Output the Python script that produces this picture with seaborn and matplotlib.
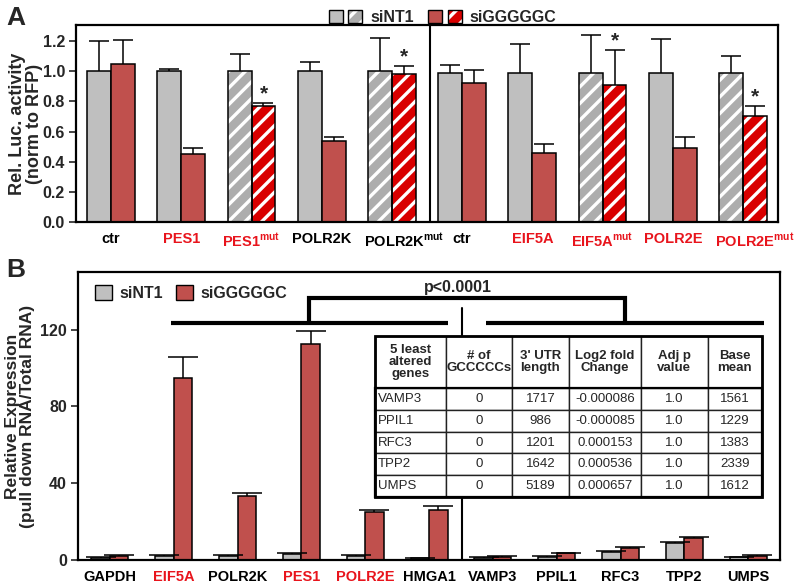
import numpy as np
import pandas as pd
import seaborn as sns
import matplotlib.pyplot as plt
from matplotlib.patches import Patch, Rectangle
from matplotlib.legend_handler import HandlerTuple

# ---- panel A: luciferase reporter activity ----
a_groups = ["ctr", "PES1", "PES1mut", "POLR2K", "POLR2Kmut",
            "ctr_2", "EIF5A", "EIF5Amut", "POLR2E", "POLR2Emut"]
a_labels = ["ctr", "PES1", r"PES1$^{\mathbf{mut}}$", "POLR2K", r"POLR2K$^{\mathbf{mut}}$",
            "ctr", "EIF5A", r"EIF5A$^{\mathbf{mut}}$", "POLR2E", r"POLR2E$^{\mathbf{mut}}$"]
a_label_red = [False, True, True, False, False, False, True, True, True, True]
a_mut = [False, False, True, False, True, False, False, True, False, True]
a_nt = [1.00, 1.00, 1.00, 1.00, 1.00, 0.985, 0.985, 0.985, 0.985, 0.985]
a_nt_err = [0.20, 0.015, 0.115, 0.06, 0.22, 0.055, 0.195, 0.255, 0.225, 0.115]
a_kd = [1.05, 0.45, 0.77, 0.54, 0.98, 0.92, 0.46, 0.905, 0.49, 0.70]
a_kd_err = [0.155, 0.04, 0.022, 0.025, 0.055, 0.09, 0.055, 0.235, 0.073, 0.07]
a_star = [False, False, True, False, True, False, False, True, False, True]

# ---- panel B: pull down enrichment ----
b_genes = ["GAPDH", "EIF5A", "POLR2K", "PES1", "POLR2E", "HMGA1",
           "VAMP3", "PPIL1", "RFC3", "TPP2", "UMPS"]
b_label_red = [False, True, False, True, True, False, False, False, False, False, False]
b_nt = [1.0, 2.0, 2.0, 3.0, 2.0, 0.8, 1.2, 1.7, 4.3, 8.7, 1.3]
b_nt_err = [0.3, 0.4, 0.4, 0.4, 0.4, 0.3, 0.3, 0.3, 0.4, 0.4, 0.3]
b_kd = [2.2, 95.0, 33.5, 112.5, 25.0, 26.0, 1.8, 3.4, 6.4, 11.3, 2.3]
b_kd_err = [0.4, 10.8, 1.4, 6.8, 1.1, 2.2, 0.3, 0.3, 0.4, 0.5, 0.3]

table_cols = ["5 least\naltered\ngenes", "# of\nGCCCCCs", "3' UTR\nlength",
              "Log2 fold\nChange", "Adj p\nvalue", "Base\nmean"]
table_genes = ["VAMP3", "PPIL1", "RFC3", "TPP2", "UMPS"]
table_gc = ["0", "0", "0", "0", "0"]
table_utr = ["1717", "986", "1201", "1642", "5189"]
table_lfc = ["-0.000086", "-0.000085", "0.000153", "0.000536", "0.000657"]
table_padj = ["1.0", "1.0", "1.0", "1.0", "1.0"]
table_base = ["1561", "1229", "1383", "2339", "1612"]

conds = ["siNT1", "siGGGGGC"]
GREY = "#bfbfbf"
GREY_H = "#adadad"
RED = "#c0504d"
RED_H = "#d90000"
LABEL_RED = "#e8141c"

sns.set_style("ticks")
plt.rcParams["font.family"] = ["Liberation Sans", "DejaVu Sans"]
plt.rcParams["font.weight"] = "bold"
plt.rcParams["mathtext.fontset"] = "custom"
plt.rcParams["mathtext.rm"] = "Liberation Sans:bold"
plt.rcParams["mathtext.bf"] = "Liberation Sans:bold"
plt.rcParams["hatch.linewidth"] = 2.4

fig = plt.figure(figsize=(7.96, 5.83), dpi=100)
ax_a = fig.add_axes([0.0955, 0.619, 0.882, 0.338])
ax_b = fig.add_axes([0.098, 0.0395, 0.882, 0.494])


def paired_patches(ax):
    ps = sorted(ax.patches, key=lambda p: p.get_x())
    return ps[0::2], ps[1::2]


def upper_errorbars(ax, xs, ys, errs, capsize):
    eb = ax.errorbar(xs, ys, yerr=[np.zeros(len(ys)), errs], fmt="none", ecolor="black",
                     elinewidth=1.1, capsize=capsize, capthick=1.1, zorder=3)
    caps = eb.lines[1]
    if len(caps) == 2:
        caps[0].set_visible(False)


def style_box(ax):
    for s in ax.spines.values():
        s.set_visible(True)
        s.set_linewidth(1.6)
        s.set_color("black")


# ---------------- A ----------------
df_a = pd.DataFrame({"group": a_groups * 2,
                     "cond": [conds[0]] * len(a_groups) + [conds[1]] * len(a_groups),
                     "value": a_nt + a_kd})
sns.barplot(data=df_a, x="group", y="value", hue="cond", order=a_groups, hue_order=conds,
            palette={conds[0]: GREY, conds[1]: RED}, saturation=1, width=0.68, errorbar=None,
            edgecolor="black", linewidth=1.1, legend=False, ax=ax_a)
nt_bars, kd_bars = paired_patches(ax_a)
for i, mut in enumerate(a_mut):
    if not mut:
        continue
    for p, fc in ((nt_bars[i], GREY_H), (kd_bars[i], RED_H)):
        p.set_facecolor(fc)
        p.set_edgecolor("white")
        p.set_hatch("//")
        p.set_linewidth(0)
        ax_a.add_patch(Rectangle((p.get_x(), p.get_y()), p.get_width(), p.get_height(),
                                 fill=False, edgecolor="black", lw=1.1, zorder=p.get_zorder() + 0.5))

x_nt = [p.get_x() + p.get_width() / 2 for p in nt_bars]
x_kd = [p.get_x() + p.get_width() / 2 for p in kd_bars]
upper_errorbars(ax_a, x_nt, a_nt, a_nt_err, 7)
upper_errorbars(ax_a, x_kd, a_kd, a_kd_err, 7)
for i, st in enumerate(a_star):
    if st:
        ax_a.text(x_kd[i], a_kd[i] + a_kd_err[i] - 0.005, "*", ha="center", va="bottom",
                  fontsize=15, fontweight="bold")

ax_a.axvline(4.54, color="black", lw=1.5)
ax_a.set_xlim(-0.5, 9.5)
ax_a.set_ylim(0, 1.305)
ax_a.set_yticks(np.arange(0, 1.21, 0.2))
ax_a.set_yticklabels([f"{v:.1f}" for v in np.arange(0, 1.21, 0.2)], fontsize=11.5, fontweight="bold")
# the two outer "mut" labels sit a little right of their bar pairs
label_shift = [0, 0, 0, 0, 0.17, 0, 0, 0, 0, 0.17]
ax_a.set_xticks([i + s for i, s in enumerate(label_shift)])
ax_a.set_xticklabels(a_labels, fontsize=10.5, fontweight="bold")
for t, red in zip(ax_a.get_xticklabels(), a_label_red):
    t.set_color(LABEL_RED if red else "black")
ax_a.tick_params(axis="x", length=0, pad=7)
ax_a.tick_params(axis="y", length=5, width=1.2, direction="out", pad=3)
ax_a.set_xlabel("")
ax_a.set_ylabel("Rel. Luc. activity\n(norm to RFP)", fontsize=13, fontweight="bold",
                linespacing=0.95, labelpad=0)
style_box(ax_a)

g_solid = Patch(facecolor=GREY, edgecolor="black", lw=1)
g_hatch = Patch(facecolor=GREY_H, edgecolor="white", hatch="//", lw=0)
r_solid = Patch(facecolor=RED, edgecolor="black", lw=1)
r_hatch = Patch(facecolor=RED_H, edgecolor="white", hatch="//", lw=0)
edge1 = Patch(facecolor="none", edgecolor="black", lw=1)
edge2 = Patch(facecolor="none", edgecolor="black", lw=1)
h_nt = (g_solid, (g_hatch, edge1))
h_kd = (r_solid, (r_hatch, edge2))
fig.legend([h_nt, h_kd], conds,
           handler_map={h_nt: HandlerTuple(ndivide=None, pad=0.35),
                        h_kd: HandlerTuple(ndivide=None, pad=0.35)},
           loc="upper center", bbox_to_anchor=(0.556, 1.008), ncol=2, frameon=False,
           prop={"size": 11.5, "weight": "bold"}, handlelength=2.1, handleheight=0.9,
           handletextpad=0.5, columnspacing=0.9)

# ---------------- B ----------------
df_b = pd.DataFrame({"gene": b_genes * 2,
                     "cond": [conds[0]] * len(b_genes) + [conds[1]] * len(b_genes),
                     "value": b_nt + b_kd})
sns.barplot(data=df_b, x="gene", y="value", hue="cond", order=b_genes, hue_order=conds,
            palette={conds[0]: GREY, conds[1]: RED}, saturation=1, width=0.58, errorbar=None,
            edgecolor="black", linewidth=1.1, legend=False, ax=ax_b)
nt_b, kd_b = paired_patches(ax_b)
xb_nt = [p.get_x() + p.get_width() / 2 for p in nt_b]
xb_kd = [p.get_x() + p.get_width() / 2 for p in kd_b]
upper_errorbars(ax_b, xb_nt, b_nt, b_nt_err, 10.5)
upper_errorbars(ax_b, xb_kd, b_kd, b_kd_err, 10.5)

# divider between targets and least altered genes, and the comparison bracket
ax_b.plot([5.52, 5.52], [0, 131], color="black", lw=1.5, zorder=2)
ax_b.plot([0.95, 5.30], [123.4, 123.4], color="black", lw=3, solid_capstyle="butt")
ax_b.plot([5.89, 10.25], [123.4, 123.4], color="black", lw=3, solid_capstyle="butt")
ax_b.plot([3.12, 3.12, 8.07, 8.07], [123.4, 136.5, 136.5, 123.4], color="black", lw=3,
          solid_joinstyle="miter")
ax_b.text(5.45, 138.0, "p<0.0001", ha="center", va="bottom", fontsize=11.5, fontweight="bold")

ax_b.set_xlim(-0.5, 10.5)
ax_b.set_ylim(0, 150)
ax_b.set_yticks([0, 40, 80, 120])
ax_b.set_yticklabels(["0", "40", "80", "120"], fontsize=11.5, fontweight="bold")
ax_b.set_xticks(range(len(b_genes)))
ax_b.set_xticklabels(b_genes, fontsize=10.5, fontweight="bold")
for t, red in zip(ax_b.get_xticklabels(), b_label_red):
    t.set_color(LABEL_RED if red else "black")
ax_b.tick_params(axis="x", length=0, pad=7)
ax_b.tick_params(axis="y", length=5, width=1.2, direction="out", pad=3)
ax_b.set_xlabel("")
ax_b.set_ylabel("Relative Expression\n(pull down RNA/Total RNA)", fontsize=12.5,
                fontweight="bold", linespacing=0.95, labelpad=4)
style_box(ax_b)

ax_b.legend([Patch(facecolor=GREY, edgecolor="black", lw=1),
             Patch(facecolor=RED, edgecolor="black", lw=1)], conds,
            loc="center left", bbox_to_anchor=(0.008, 0.928), ncol=2, frameon=False,
            prop={"size": 11.5, "weight": "bold"}, handlelength=1.05, handleheight=1.05,
            handletextpad=0.5, columnspacing=0.8, borderaxespad=0.3)

cell_text = [list(r) for r in zip(table_genes, table_gc, table_utr, table_lfc, table_padj, table_base)]
col_w = [71, 66, 57, 72, 67, 54]
tbl = ax_b.table(cellText=cell_text, colLabels=table_cols, colWidths=[w / sum(col_w) for w in col_w],
                 cellLoc="center", bbox=[0.423, 0.219, 0.551, 0.559])
tbl.auto_set_font_size(False)
tbl.set_zorder(5)
for (r, c), cell in tbl.get_celld().items():
    cell.set_linewidth(1.0)
    cell.set_edgecolor("#222222")
    cell.set_facecolor("white")
    if r == 0:
        cell.set_height(2.4)
        cell.get_text().set_fontweight("bold")
        cell.get_text().set_fontsize(9.5)
        cell.get_text().set_linespacing(1.0)
    else:
        cell.set_height(1.0)
        cell.get_text().set_fontweight("normal")
        cell.get_text().set_fontsize(9.5)
        if c == 0:
            cell._loc = "left"
            cell.get_text().set_ha("left")
            cell.PAD = 0.04
ax_b.add_patch(Rectangle((0.423, 0.219), 0.551, 0.559, transform=ax_b.transAxes, fill=False,
                         edgecolor="black", lw=2, zorder=6))
ax_b.add_patch(Rectangle((0.423, 0.219), 0.551, 0.559 * 5 / 7.4, transform=ax_b.transAxes,
                         fill=False, edgecolor="black", lw=1.6, zorder=6))

fig.text(0.008, 0.99, "A", fontsize=19, fontweight="bold", va="top")
fig.text(0.008, 0.558, "B", fontsize=19, fontweight="bold", va="top")

fig.savefig("out.png", dpi=100)
